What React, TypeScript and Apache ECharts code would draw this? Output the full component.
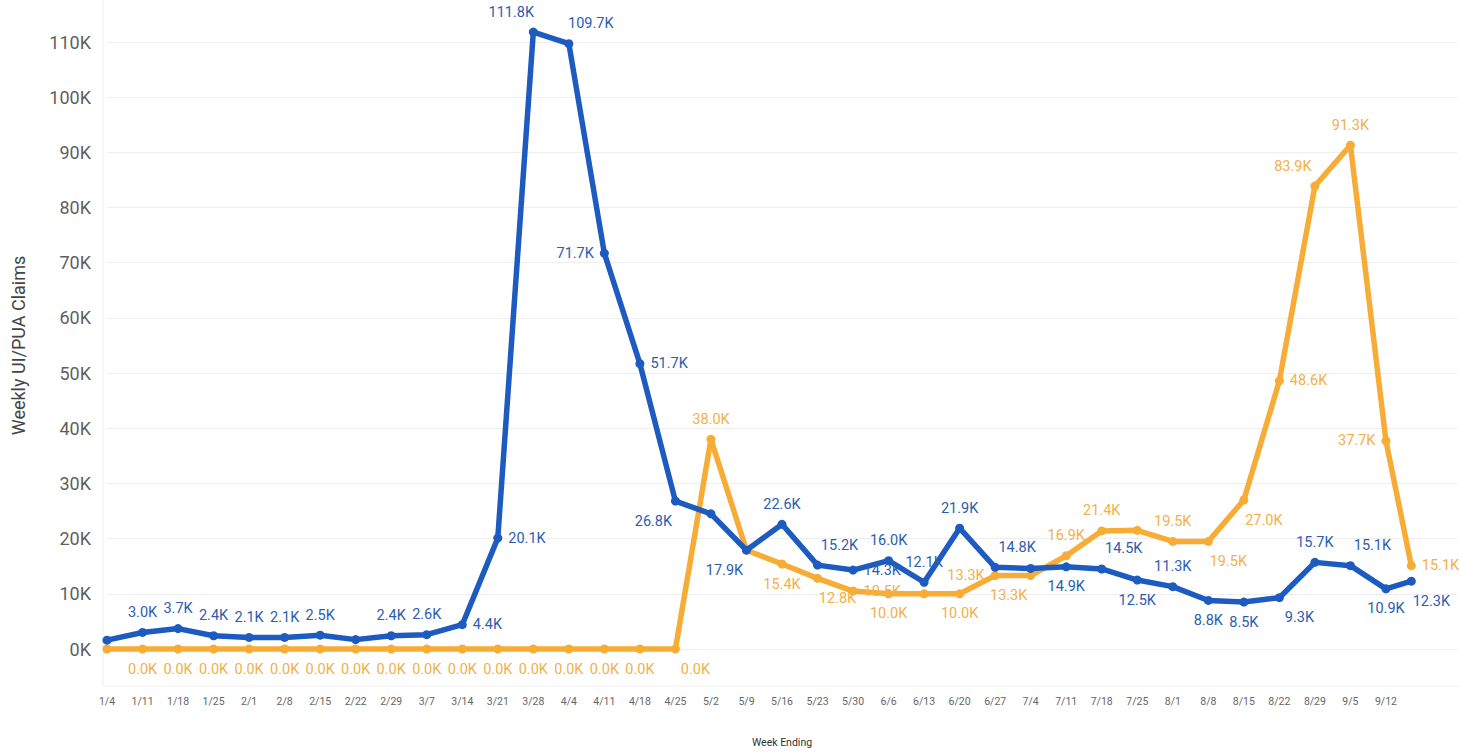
import React, { useEffect, useRef } from "react";
import * as echarts from "echarts";

// Week-ending tick labels (one per 7 days starting 1/4)
const weekLabels = [
  "1/4", "1/11", "1/18", "1/25", "2/1", "2/8", "2/15", "2/22", "2/29", "3/7",
  "3/14", "3/21", "3/28", "4/4", "4/11", "4/18", "4/25", "5/2", "5/9", "5/16",
  "5/23", "5/30", "6/6", "6/13", "6/20", "6/27", "7/4", "7/11", "7/18", "7/25",
  "8/1", "8/8", "8/15", "8/22", "8/29", "9/5", "9/12",
];

// Day offset (from 1/4) of each data point; last point is a partial week (9/17)
const dayOffsets = [
  0, 7, 14, 21, 28, 35, 42, 49, 56, 63,
  70, 77, 84, 91, 98, 105, 112, 119, 126, 133,
  140, 147, 154, 161, 168, 175, 182, 189, 196, 203,
  210, 217, 224, 231, 238, 245, 252, 257,
];

// Blue series (weekly UI claims)
const uiClaims = [
  1600, 3000, 3700, 2400, 2100, 2100, 2500, 1700, 2400, 2600,
  4400, 20100, 111800, 109700, 71700, 51700, 26800, 24500, 17900, 22600,
  15200, 14300, 16000, 12100, 21900, 14800, 14600, 14900, 14500, 12500,
  11300, 8800, 8500, 9300, 15700, 15100, 10900, 12300,
];

// Orange series (weekly PUA claims)
const puaClaims = [
  0, 0, 0, 0, 0, 0, 0, 0, 0, 0,
  0, 0, 0, 0, 0, 0, 0, 38000, 17900, 15400,
  12800, 10500, 10000, 10000, 10000, 13300, 13300, 16900, 21400, 21500,
  19500, 19500, 27000, 48600, 83900, 91300, 37700, 15100,
];

// Label placement codes: n=none, t/b/l/r, tl/tr/bl/br
const uiLabelPos = [
  "n", "t", "t", "t", "t", "t", "t", "n", "t", "t",
  "r", "r", "tl", "tr", "l", "r", "bl", "n", "bl", "t",
  "tr", "r", "t", "t", "t", "tr", "n", "b", "tr", "b",
  "t", "b", "b", "br", "t", "tr", "b", "br",
];
const puaLabelPos = [
  "n", "b", "b", "b", "b", "b", "b", "b", "b", "b",
  "b", "b", "b", "b", "b", "b", "br", "t", "n", "b",
  "br", "r", "b", "n", "b", "l", "bl", "t", "t", "n",
  "t", "br", "br", "r", "tl", "t", "l", "r",
];

const BLUE = "#1d5bc0";
const BLUE_LABEL = "#2c5db0";
const ORANGE = "#f7ac35";
const ORANGE_LABEL = "#f3b04a";

function labelFor(code: string) {
  const base: any = { show: true, distance: 8 };
  switch (code) {
    case "n":
      return { show: false };
    case "t":
      return { ...base, position: "top" };
    case "b":
      return { ...base, position: "bottom" };
    case "l":
      return { ...base, position: "left", distance: 6 };
    case "r":
      return { ...base, position: "right", distance: 6 };
    case "tl":
      return { ...base, position: "top", offset: [-22, 0] };
    case "tr":
      return { ...base, position: "top", offset: [22, 0] };
    case "bl":
      return { ...base, position: "bottom", offset: [-22, 0] };
    case "br":
      return { ...base, position: "bottom", offset: [20, 0] };
  }
  return base;
}

function buildData(values: number[], codes: string[]) {
  return values.map((v, i) => ({
    value: [dayOffsets[i], v],
    label: labelFor(codes[i]),
  }));
}

const fmtK = (p: any) => (p.value[1] / 1000).toFixed(1) + "K";

export default function App() {
  const ref = useRef<HTMLDivElement>(null);
  useEffect(() => {
    document.body.style.margin = "0";
    const chart = echarts.init(ref.current!, null, { renderer: "svg" });
    chart.setOption({
      animation: false,
      backgroundColor: "#ffffff",
      textStyle: { fontFamily: "Roboto" },
      grid: { left: 107, right: 0, top: 42, bottom: 91, containLabel: false },
      xAxis: {
        type: "value",
        min: 0,
        max: 266,
        interval: 7,
        axisLine: { show: false },
        axisTick: { show: false },
        splitLine: { show: false },
        axisLabel: {
          margin: 47,
          fontSize: 10.5,
          color: "#666666",
          formatter: (v: number) => weekLabels[Math.round(v / 7)] ?? "",
        },
        name: "Week Ending",
        nameLocation: "middle",
        nameGap: 88,
        nameTextStyle: { fontSize: 10.5, color: "#333333" },
      },
      yAxis: {
        type: "value",
        min: 0,
        max: 110000,
        interval: 10000,
        axisLine: { show: false },
        axisTick: { show: false },
        splitLine: { lineStyle: { color: "#eeeeee", width: 1 } },
        axisLabel: {
          margin: 16,
          fontSize: 18,
          color: "#5f5f5f",
          formatter: (v: number) => v / 1000 + "K",
        },
        name: "Weekly UI/PUA Claims",
        nameLocation: "middle",
        nameGap: 80,
        nameTextStyle: { fontSize: 18, color: "#444444" },
      },
      graphic: [
        {
          type: "line",
          shape: { x1: 103, y1: 0, x2: 103, y2: 686 },
          style: { stroke: "#eeeeee", lineWidth: 1 },
          silent: true,
        },
        {
          type: "line",
          shape: { x1: 103, y1: 686, x2: 1460, y2: 686 },
          style: { stroke: "#f0f0f0", lineWidth: 1 },
          silent: true,
        },
      ],
      series: [
        {
          name: "PUA",
          type: "line",
          data: buildData(puaClaims, puaLabelPos),
          symbol: "circle",
          symbolSize: 9,
          clip: false,
          lineStyle: { color: ORANGE, width: 5.5 },
          itemStyle: { color: ORANGE },
          label: { fontSize: 14.5, color: ORANGE_LABEL, formatter: fmtK },
          z: 2,
        },
        {
          name: "UI",
          type: "line",
          data: buildData(uiClaims, uiLabelPos),
          symbol: "circle",
          symbolSize: 9,
          clip: false,
          lineStyle: { color: BLUE, width: 5.5 },
          itemStyle: { color: BLUE },
          label: { fontSize: 14.5, color: BLUE_LABEL, formatter: fmtK },
          z: 3,
        },
      ],
    });
    return () => chart.dispose();
  }, []);
  return <div ref={ref} style={{ width: 1460, height: 753 }} />;
}
